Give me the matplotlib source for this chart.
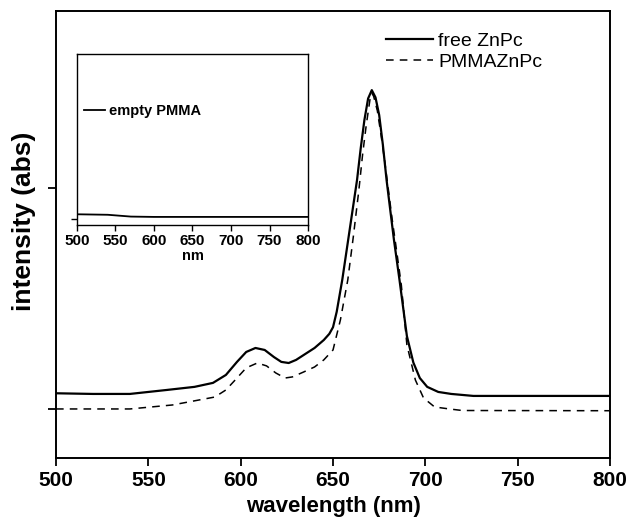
import matplotlib
matplotlib.use('Agg')
import matplotlib.pyplot as plt

plt.rcParams['font.family'] = ['Liberation Sans', 'DejaVu Sans']

# free ZnPc (solid), arbitrary absorbance units
free_nm = [500, 520, 540, 560, 575, 585, 592, 598, 603, 608, 613, 618, 622, 626,
           630, 635, 640, 645, 648, 650, 652, 655, 659, 663, 665, 667, 669, 671,
           673, 675, 677, 679, 681, 683, 686, 690, 693.5, 697, 701, 707, 714,
           726, 800]
free_abs = [0.071, 0.068, 0.068, 0.086, 0.100, 0.118, 0.154, 0.213, 0.258, 0.276,
            0.267, 0.235, 0.213, 0.208, 0.222, 0.249, 0.276, 0.312, 0.340, 0.370,
            0.440, 0.584, 0.810, 1.036, 1.180, 1.308, 1.405, 1.443, 1.410, 1.330,
            1.195, 1.036, 0.900, 0.765, 0.584, 0.330, 0.210, 0.140, 0.100, 0.077,
            0.068, 0.059, 0.059]

# PMMAZnPc (dashed)
pmma_nm = [500, 540, 563, 586, 592, 597, 603, 609, 614, 619, 624, 628, 634, 640,
           645, 650, 654, 658, 661, 664, 666, 668, 670, 671, 672, 674, 676, 678,
           680, 682, 684, 687, 690, 694.6, 699, 705, 713, 720, 800]
pmma_abs = [0.0, 0.0, 0.018, 0.054, 0.086, 0.131, 0.186, 0.208, 0.195, 0.163,
            0.140, 0.145, 0.167, 0.190, 0.222, 0.267, 0.403, 0.584, 0.780, 0.991,
            1.150, 1.285, 1.400, 1.430, 1.415, 1.350, 1.240, 1.120, 0.991, 0.860,
            0.742, 0.560, 0.290, 0.131, 0.050, 0.009, 0.0, -0.007, -0.008]

# inset: empty PMMA
empty_nm = [500, 540, 570, 600, 650, 700, 800]
empty_abs = [0.028, 0.025, 0.014, 0.012, 0.012, 0.012, 0.012]

xticks = [500, 550, 600, 650, 700, 750, 800]

fig = plt.figure(figsize=(6.3, 5.25), dpi=100)
ax = fig.add_axes([0.0889, 0.1276, 0.8794, 0.8514])

ax.plot(free_nm, free_abs, color='black', lw=1.6, label='free ZnPc')
ax.plot(pmma_nm, pmma_abs, color='black', lw=1.1, dashes=(5, 4), label='PMMAZnPc')

ax.set_xlim(500, 800)
ax.set_ylim(-0.222, 1.801)
ax.set_xticks(xticks)
ax.set_yticks([0, 1])
ax.set_yticklabels([])
ax.tick_params(direction='out', length=6, width=1.3)
for lbl in ax.get_xticklabels():
    lbl.set_fontsize(15)
    lbl.set_fontweight('bold')
for s in ax.spines.values():
    s.set_linewidth(1.4)

ax.set_xlabel('wavelength (nm)', fontsize=16, fontweight='bold', labelpad=4)
ax.set_ylabel('intensity (abs)', fontsize=19, fontweight='bold')
ax.yaxis.set_label_coords(-0.037, 0.53)

ax.legend(loc='upper left', bbox_to_anchor=(0.578, 0.975), frameon=False,
          fontsize=14, handlelength=2.4, handletextpad=0.3, labelspacing=0.2,
          borderpad=0)

# inset
ins = fig.add_axes([0.1222, 0.5705, 0.3667, 0.3265])
ins.plot(empty_nm, empty_abs, color='black', lw=1.3, label='empty PMMA')
ins.set_xlim(500, 800)
ins.set_ylim(-0.04, 1.0)
ins.set_xticks(xticks)
ins.set_yticks([0])
ins.set_yticklabels([])
ins.tick_params(direction='out', length=4, width=1.0, pad=2)
for lbl in ins.get_xticklabels():
    lbl.set_fontsize(11)
    lbl.set_fontweight('bold')
for s in ins.spines.values():
    s.set_linewidth(1.0)
ins.set_xlabel('nm', fontsize=10.5, fontweight='bold', labelpad=0.5)
ins.legend(loc='center left', bbox_to_anchor=(0.0, 0.668), frameon=False,
           handlelength=1.4, handletextpad=0.3, borderpad=0,
           prop={'weight': 'bold', 'size': 10.5})

fig.savefig('out.png', dpi=100)
